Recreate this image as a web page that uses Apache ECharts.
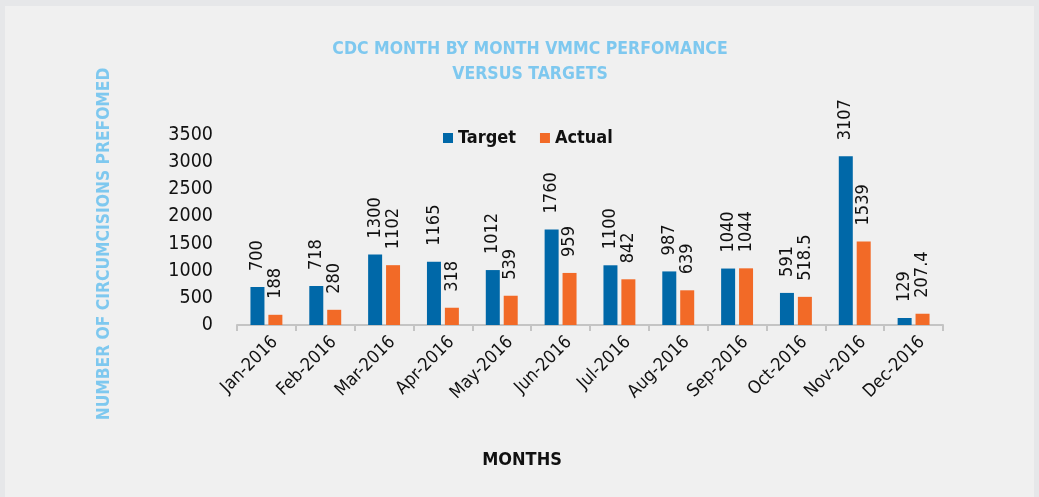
<!DOCTYPE html>
<html>
<head>
<meta charset="utf-8">
<script src="https://cdn.jsdelivr.net/npm/echarts@6/dist/echarts.min.js"></script>
<style>
  html, body { margin: 0; padding: 0; background: #e6e7e9; }
  #chart { position: absolute; left: 5px; top: 6px; width: 1029px; height: 491px; background: #f0f0f0; }
</style>
</head>
<body>
<div id="chart"></div>
<script>
const months = ["Jan-2016", "Feb-2016", "Mar-2016", "Apr-2016", "May-2016", "Jun-2016",
  "Jul-2016", "Aug-2016", "Sep-2016", "Oct-2016", "Nov-2016", "Dec-2016"];
const target = [700, 718, 1300, 1165, 1012, 1760, 1100, 987, 1040, 591, 3107, 129];
const actual = [188, 280, 1102, 318, 539, 959, 842, 639, 1044, 518.5, 1539, 207.4];

const FONT = "'DejaVu Sans Condensed', 'Liberation Sans Narrow', sans-serif";
const TITLE_BLUE = "#7ec8ef";

let myChart = echarts.init(document.getElementById("chart"));

// label shared by both series
const barLabel = {
  show: true,
  position: "top",
  rotate: 90,
  align: "left",
  verticalAlign: "middle",
  distance: 16,
  color: "#111",
  fontFamily: FONT,
  fontSize: 18,
};

let option = {
  textStyle: { fontFamily: FONT },
  title: {
    text: "CDC MONTH BY MONTH VMMC PERFOMANCE\nVERSUS TARGETS",
    left: 520,
    textAlign: "center",
    top: 26,
    textStyle: {
      color: TITLE_BLUE,
      fontFamily: FONT,
      fontWeight: "bold",
      fontSize: 17.5,
      lineHeight: 25,
    },
  },
  legend: {
    top: 118,
    left: 433,
    itemWidth: 10,
    itemHeight: 10,
    itemGap: 24,
    icon: "rect",
    textStyle: { color: "#111", fontFamily: FONT, fontWeight: "bold", fontSize: 18 },
    data: ["Target", "Actual"],
  },
  grid: {
    left: 232,
    right: 91,
    top: 129,
    bottom: 172,
    containLabel: false,
  },
  graphic: [
    {
      type: "text",
      x: 100,
      y: 238,
      rotation: Math.PI / 2,
      style: {
        text: "NUMBER OF CIRCUMCISIONS PREFOMED",
        fill: TITLE_BLUE,
        font: "bold 17.3px " + FONT,
        textAlign: "center",
        textVerticalAlign: "middle",
      },
    },
    {
      type: "text",
      x: 517,
      y: 454,
      style: {
        text: "MONTHS",
        fill: "#111",
        font: "bold 18px " + FONT,
        textAlign: "center",
        textVerticalAlign: "middle",
      },
    },
  ],
  xAxis: {
    type: "category",
    data: months,
    axisLine: { show: true, lineStyle: { color: "#c4c4c4", width: 2 } },
    axisTick: { show: true, length: 6, lineStyle: { color: "#c4c4c4", width: 2 } },
    axisLabel: {
      interval: 0,
      rotate: 45,
      margin: 6,
      verticalAlign: "top",
      lineHeight: 24,
      color: "#111",
      fontFamily: FONT,
      fontSize: 18,
    },
  },
  yAxis: {
    type: "value",
    min: 0,
    max: 3500,
    interval: 500,
    axisLine: { show: false },
    axisTick: { show: false },
    splitLine: { show: false },
    axisLabel: {
      color: "#111",
      margin: 24,
      fontFamily: FONT,
      fontSize: 19.5,
      formatter: (v) => String(v),
    },
  },
  series: [
    {
      name: "Target",
      type: "bar",
      barWidth: 14,
      barGap: "28%",
      itemStyle: { color: "#0068a8" },
      label: barLabel,
      data: target,
    },
    {
      name: "Actual",
      type: "bar",
      barWidth: 14,
      itemStyle: { color: "#f26a27" },
      label: barLabel,
      data: actual,
    },
  ],
};
myChart.setOption(option);
</script>
</body>
</html>
